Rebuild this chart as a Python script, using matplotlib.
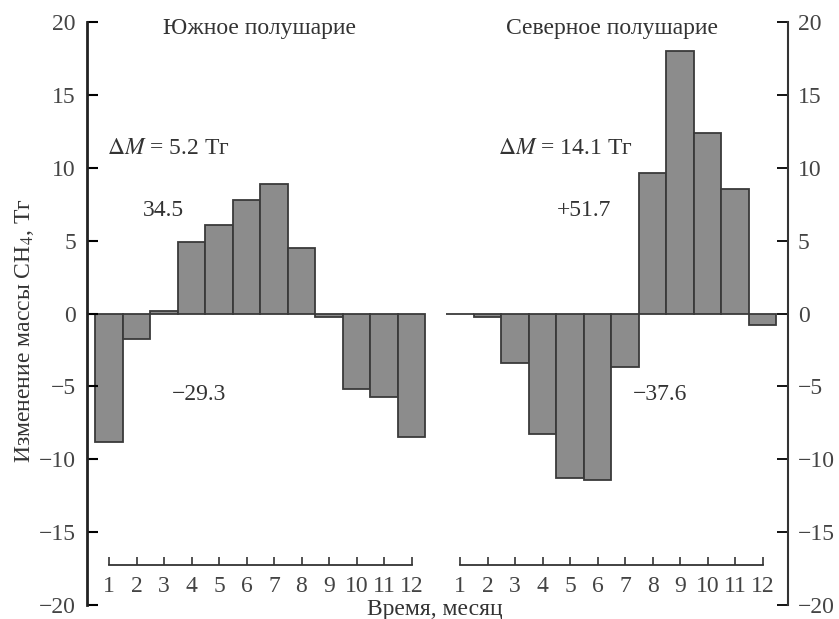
import numpy as np
import matplotlib
matplotlib.use("Agg")
import matplotlib.pyplot as plt

# monthly change of CH4 mass, Tg
months = list(range(1, 13))
south = [-8.8, -1.75, 0.15, 4.9, 6.1, 7.8, 8.9, 4.5, -0.25, -5.2, -5.7, -8.45]
north = [-0.05, -0.25, -3.4, -8.3, -11.3, -11.45, -3.65, 9.65, 18.0, 12.4, 8.55, -0.8]

titles = ["Южное полушарие", "Северное полушарие"]
delta_m = ["$\\Delta M$ = 5.2 Тг", "$\\Delta M$ = 14.1 Тг"]
pos_sum = ["34.5", "+51.7"]
neg_sum = ["\u221229.3", "\u221237.6"]

plt.rcParams['font.family'] = ['Liberation Serif', 'DejaVu Serif']
plt.rcParams['mathtext.fontset'] = 'stix'

W, H = 839, 619
fig = plt.figure(figsize=(W / 100, H / 100), dpi=100)

unit = 27.5  # px per month
y_top, y_bot = 22, 605
fs = 17

def make_ax(x_left_px, xlim):
    w = (xlim[1] - xlim[0]) * unit
    return fig.add_axes([x_left_px / W, 1 - y_bot / H, w / W, (y_bot - y_top) / H])

ax1 = make_ax(87, (0.2, 12.9))
ax2 = make_ax(440.75, (0.3, 12.93))
ax1.set_xlim(0.2, 12.9)
ax2.set_xlim(0.3, 12.93)

bar_color = '#8c8c8c'
edge_color = '#3a3a3a'
ax1.bar(months, south, width=1.0, color=bar_color, edgecolor=edge_color, linewidth=1.3)
ax2.bar(months, north, width=1.0, color=bar_color, edgecolor=edge_color, linewidth=1.3)

for ax in (ax1, ax2):
    ax.set_ylim(-20, 20)
    ax.patch.set_alpha(0)
    ax.spines['top'].set_visible(False)
    ax.spines['bottom'].set_position(('data', -17.25))
    ax.spines['bottom'].set_bounds(1, 12)
    ax.spines['bottom'].set_linewidth(1.3)
    ax.spines['bottom'].set_color('#333333')
    ax.set_xticks(months)
    ax.set_xticklabels([str(m) for m in months])
    ax.tick_params(axis='x', direction='in', length=6, width=1.2, pad=8,
                   labelsize=fs, colors='#333333', labelcolor='#444444')

ax1.spines['right'].set_visible(False)
ax2.spines['left'].set_visible(False)
ax1.spines['left'].set_linewidth(2)
ax2.spines['right'].set_linewidth(1.5)
ax1.spines['left'].set_color('#222222')
ax2.spines['right'].set_color('#333333')

yt = [-20, -15, -10, -5, 0, 5, 10, 15, 20]
ylabels = [str(v).replace('-', '\u2212') for v in yt]
ax1.set_yticks(yt)
ax1.set_yticklabels(ylabels)
ax1.tick_params(axis='y', direction='in', length=8, width=1.5, pad=8,
                labelsize=fs, labelcolor='#444444')
ax2.yaxis.tick_right()
ax2.set_yticks(yt)
ax2.set_yticklabels(ylabels)
ax2.tick_params(axis='y', direction='in', length=8, width=1.3, pad=7,
                labelsize=fs, labelcolor='#444444')

ax1.set_ylabel("Изменение массы CH$_4$, Тг", fontsize=fs, color='#333333')
ax1.yaxis.set_label_coords(-0.145, 0.47)

txt = dict(fontsize=fs, color='#333333')
ax1.text(6.49, 19.55, titles[0], ha='center', va='center', **txt)
ax2.text(6.51, 19.55, titles[1], ha='center', va='center', **txt)
ax1.text(0.93, 11.3, delta_m[0], ha='left', va='center', **txt)
ax2.text(2.38, 11.3, delta_m[1], ha='left', va='center', **txt)
ax1.text(2.24, 7.07, pos_sum[0], ha='left', va='center', **txt)
ax2.text(4.53, 7.07, pos_sum[1], ha='left', va='center', **txt)
ax1.text(3.29, -5.53, neg_sum[0], ha='left', va='center', **txt)
ax2.text(7.29, -5.53, neg_sum[1], ha='left', va='center', **txt)

fig.text(435 / W, 1 - 609.5 / H, "Время, месяц", ha='center', va='center', **txt)

fig.savefig("out.png", dpi=100)
